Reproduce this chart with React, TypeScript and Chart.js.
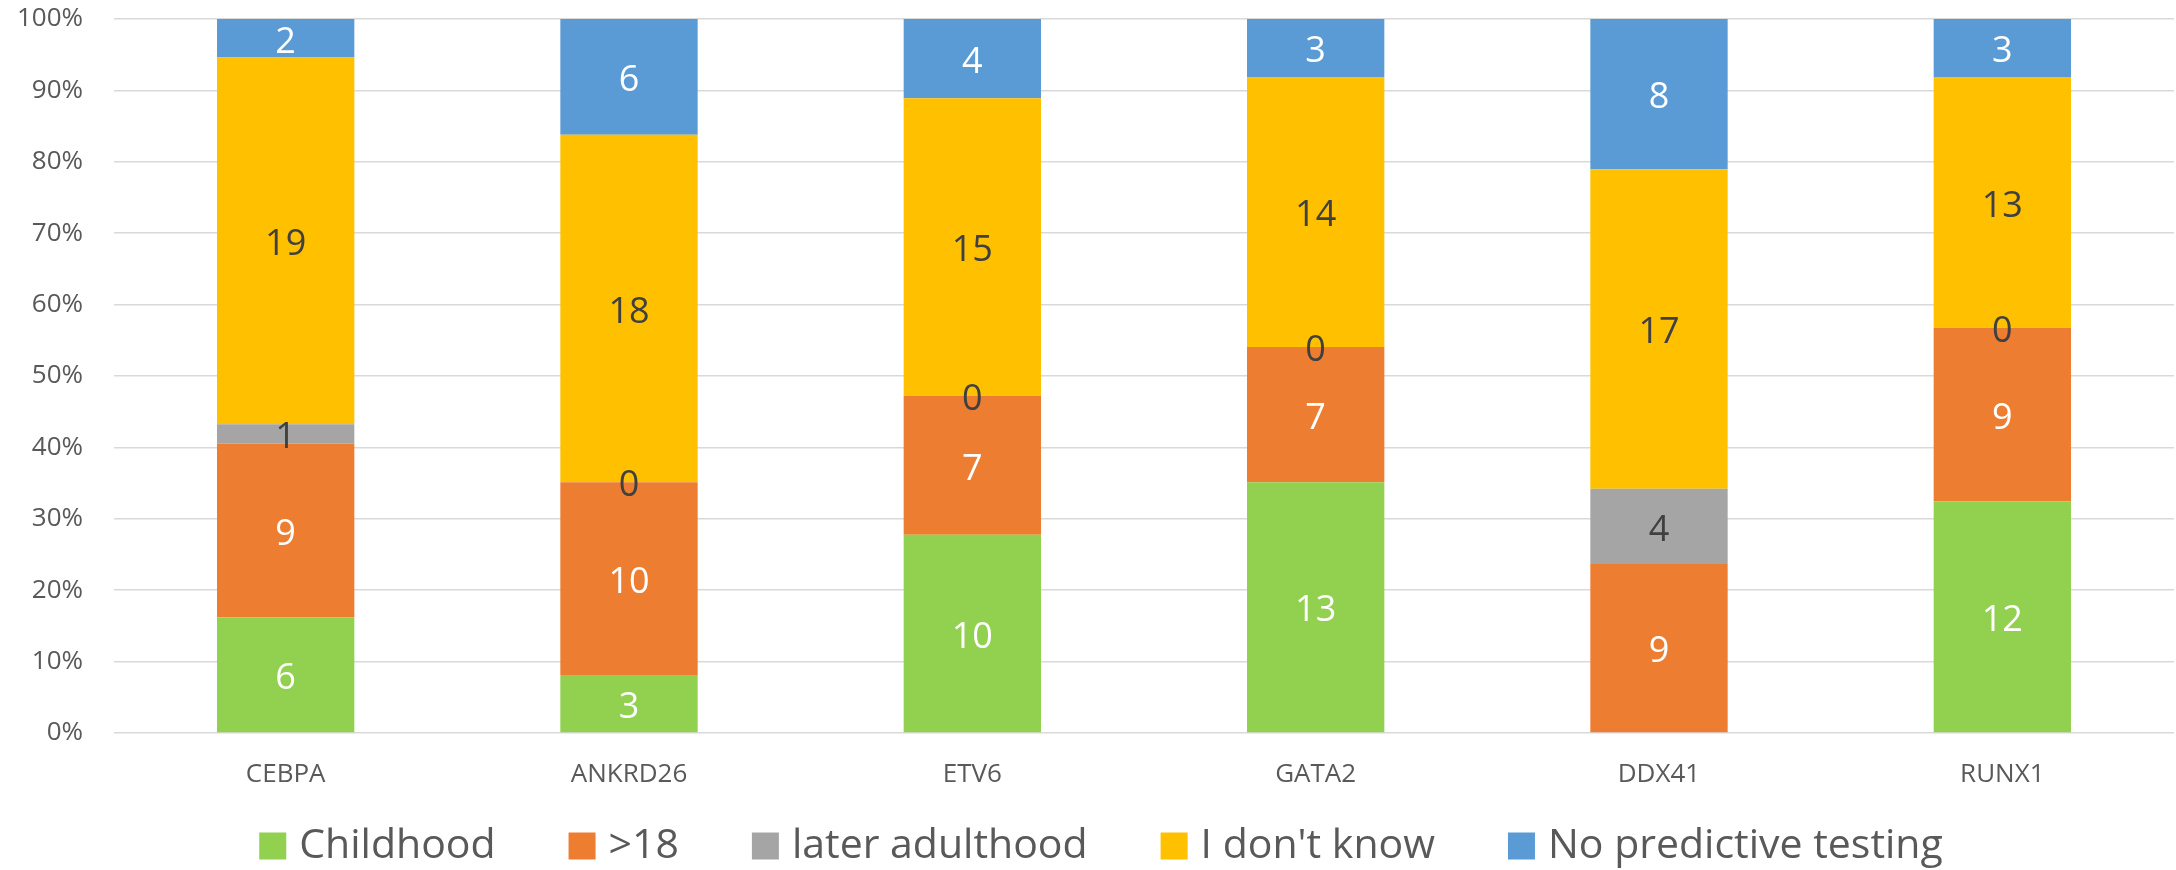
import React, { useEffect, useRef } from "react";
import { Chart, registerables } from "chart.js";

Chart.register(...registerables);

const categories = ["CEBPA", "ANKRD26", "ETV6", "GATA2", "DDX41", "RUNX1"];
const seriesNames = ["Childhood", ">18", "later adulthood", "I don't know", "No predictive testing"];
const childhood = [6, 3, 10, 13, 0, 12];
const over18 = [9, 10, 7, 7, 9, 9];
const laterAdulthood = [1, 0, 0, 0, 4, 0];
const dontKnow = [19, 18, 15, 14, 17, 13];
const noTesting = [2, 6, 4, 3, 8, 3];
const seriesColors = ["#92D050", "#ED7D31", "#A5A5A5", "#FFC000", "#5B9BD5"];
const labelColors = ["#FFFFFF", "#FFFFFF", "#404040", "#404040", "#FFFFFF"];
const yTicks = [0, 10, 20, 30, 40, 50, 60, 70, 80, 90, 100];

const FONT = "'Open Sans', 'Liberation Sans', sans-serif";

export default function App() {
  const ref = useRef<HTMLCanvasElement | null>(null);

  useEffect(() => {
    document.body.style.margin = "0";
    const counts = [childhood, over18, laterAdulthood, dontKnow, noTesting];
    const totals = categories.map((_, i) => counts.reduce((s, a) => s + a[i], 0));
    const datasets = counts.map((arr, k) => ({
      label: seriesNames[k],
      data: arr.map((v, i) => (v / totals[i]) * 100),
      counts: arr,
      backgroundColor: seriesColors[k],
      borderWidth: 0,
      barPercentage: 0.4,
      categoryPercentage: 1.0,
    }));

    const labelPlugin = {
      id: "segLabels",
      afterDatasetsDraw(chart: any) {
        const ctx = chart.ctx;
        ctx.save();
        ctx.font = `36px ${FONT}`;
        ctx.textAlign = "center";
        ctx.textBaseline = "middle";
        chart.data.datasets.forEach((ds: any, k: number) => {
          const meta = chart.getDatasetMeta(k);
          meta.data.forEach((bar: any, i: number) => {
            const v = ds.counts[i];
            let below = 0;
            for (let j = 0; j < k; j++) below += chart.data.datasets[j].counts[i];
            if (v === 0 && below === 0) return;
            const y = (bar.y + bar.base) / 2 + 4;
            ctx.fillStyle = labelColors[k];
            ctx.fillText(String(v), bar.x, y);
          });
        });
        ctx.restore();
      },
    };

    const legendPlugin = {
      id: "bottomLegend",
      afterDraw(chart: any) {
        const ctx = chart.ctx;
        ctx.save();
        ctx.font = `41px ${FONT}`;
        ctx.textBaseline = "middle";
        ctx.textAlign = "left";
        const box = 27;
        const gapText = 13;
        const gapItem = 73;
        const dss = chart.data.datasets;
        const widths = dss.map((d: any) => ctx.measureText(d.label).width);
        const total =
          widths.reduce((s: number, w: number) => s + box + gapText + w, 0) + gapItem * (dss.length - 1);
        let x = 1101 - total / 2;
        const cy = 846;
        dss.forEach((d: any, k: number) => {
          ctx.fillStyle = d.backgroundColor;
          ctx.fillRect(x, cy - box / 2, box, box);
          x += box + gapText;
          ctx.fillStyle = "#595959";
          ctx.fillText(d.label, x, cy);
          x += widths[k] + gapItem;
        });
        ctx.restore();
      },
    };

    const chart = new Chart(ref.current as HTMLCanvasElement, {
      type: "bar",
      data: { labels: categories, datasets: datasets as any },
      options: {
        animation: false,
        responsive: false,
        layout: { padding: { top: 19, right: 2, left: 0, bottom: 80 } },
        plugins: {
          tooltip: { enabled: false },
          legend: { display: false },
        },
        scales: {
          x: {
            stacked: true,
            grid: { display: false, drawTicks: false },
            border: { display: false },
            ticks: { color: "#595959", font: { family: FONT, size: 26 }, padding: 26, maxRotation: 0 },
            afterFit(scale: any) {
              scale.height = 57;
            },
          },
          y: {
            stacked: true,
            min: 0,
            max: 100,
            afterBuildTicks(scale: any) {
              scale.ticks = yTicks.map((v) => ({ value: v }));
            },
            grid: { color: "#D9D9D9", lineWidth: 1.5, drawTicks: false },
            border: { display: false },
            ticks: {
              color: "#595959",
              font: { family: FONT, size: 26 },
              padding: 31,
              callback: (v: any) => v + "%",
            },
            afterFit(scale: any) {
              scale.width = 114;
              scale.paddingTop = 15;
              scale.paddingBottom = 15;
            },
          },
        },
      },
      plugins: [labelPlugin, legendPlugin],
    });
    return () => chart.destroy();
  }, []);

  return (
    <div style={{ width: 2176, height: 870, background: "#fff" }}>
      <canvas ref={ref} width={2176} height={870} style={{ display: "block" }} />
    </div>
  );
}
